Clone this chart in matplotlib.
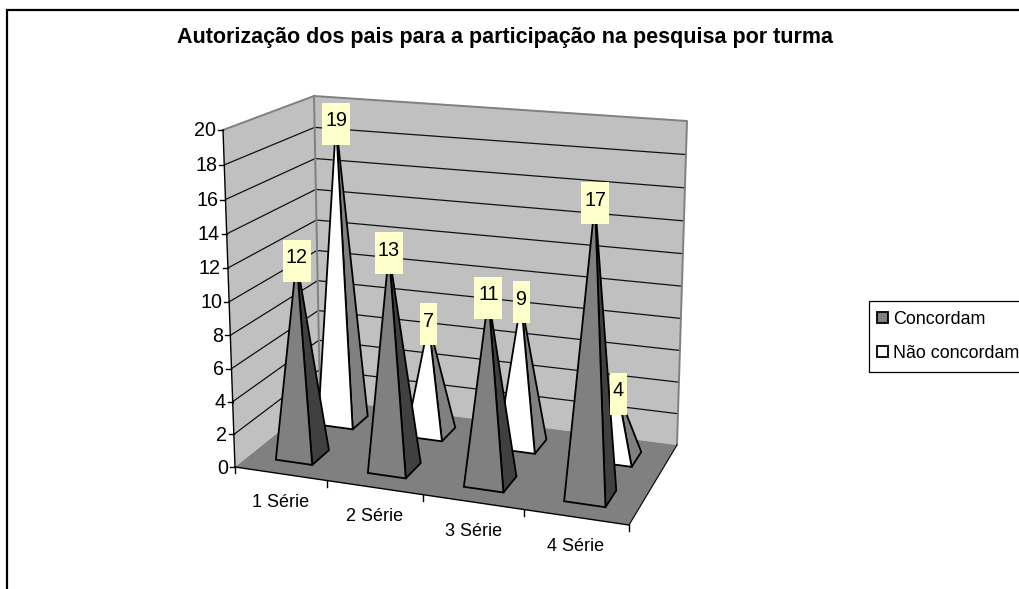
import numpy as np
import matplotlib
matplotlib.use('Agg')
import matplotlib.pyplot as plt
from matplotlib.patches import Patch, Polygon, Rectangle

plt.rcParams['font.family'] = ['Liberation Sans', 'DejaVu Sans']

title = 'Autorização dos pais para a participação na pesquisa por turma'
categories = ['1 Série', '2 Série', '3 Série', '4 Série']
concordam = [12, 13, 11, 17]
nao_concordam = [19, 7, 9, 4]
y_ticks = [0, 2, 4, 6, 8, 10, 12, 14, 16, 18, 20]
y_max = 20

W, H = 1019, 589

# box corners in picture pixels: front left, front right, back right, back left
floor_px = [(235, 467), (629, 525), (677, 445), (320, 399)]
roof_px = [(223, 130), (641, 165), (687, 121), (314, 96)]


def homography(corners):
    src = [(0, 0), (1, 0), (1, 1), (0, 1)]
    A, b = [], []
    for (u, d), (x, y) in zip(src, corners):
        A.append([u, d, 1, 0, 0, 0, -u * x, -d * x])
        A.append([0, 0, 0, u, d, 1, -u * y, -d * y])
        b += [x, y]
    return np.append(np.linalg.solve(np.array(A, float), np.array(b, float)), 1).reshape(3, 3)


H_floor = homography(floor_px)
H_roof = homography(roof_px)


def apply_h(h, u, d):
    p = h @ np.array([u, d, 1.0])
    return p[:2] / p[2]


def proj(cat, depth, value=0):
    # cat runs 0..len(categories), depth 0..1 front to back
    u = cat / len(categories)
    t = value / y_max
    t = t / (1 + 0.04 * (1 - t))  # slight vertical perspective
    return tuple((1 - t) * apply_h(H_floor, u, depth) + t * apply_h(H_roof, u, depth))


fig = plt.figure(figsize=(W / 100, H / 100), dpi=100)
ax = fig.add_axes([0, 0, 1, 1])
ax.set_xlim(0, W)
ax.set_ylim(H, 0)
ax.axis('off')

n = len(categories)
wall_c = '#C0C0C0'
edge_c = '#808080'

# walls and floor
ax.add_patch(Polygon([proj(0, 0), proj(0, 1), proj(0, 1, y_max), proj(0, 0, y_max)], fc=wall_c, ec='none', zorder=1))
ax.add_patch(Polygon([proj(0, 1), proj(n, 1), proj(n, 1, y_max), proj(0, 1, y_max)], fc=wall_c, ec='none', zorder=1))
ax.add_patch(Polygon([proj(0, 0), proj(n, 0), proj(n, 1), proj(0, 1)], fc=edge_c, ec='none', zorder=1.5))

# gridlines
for v in y_ticks[1:-1]:
    pts = [proj(0, 0, v), proj(0, 1, v), proj(n, 1, v)]
    ax.plot(*zip(*pts), color='#111111', lw=0.9, zorder=2)

# wall edges
pts = [proj(0, 0, y_max), proj(0, 1, y_max), proj(n, 1, y_max), proj(n, 1)]
ax.plot(*zip(*pts), color=edge_c, lw=1.4, zorder=2)
pts = [proj(0, 1), proj(0, 1, y_max)]
ax.plot(*zip(*pts), color=edge_c, lw=1.4, zorder=2)

# axes
ax.plot(*zip(proj(0, 0), proj(0, 0, y_max)), color='black', lw=1, zorder=3)
ax.plot(*zip(proj(0, 0), proj(n, 0)), color='black', lw=1, zorder=3)
ax.plot(*zip(proj(n, 0), proj(n, 1)), color='black', lw=0.8, zorder=3)

for v in y_ticks:
    x, y = proj(0, 0, v)
    ax.plot([x - 5, x], [y, y], color='black', lw=1, zorder=3)
    ax.text(x - 7, y + 1, str(v), ha='right', va='center', fontsize=14.2)

for i in range(n + 1):
    x, y = proj(i, 0)
    ax.plot([x, x], [y, y + 6], color='black', lw=1, zorder=3)

for i, name in enumerate(categories):
    x, y = proj(i + 0.5, 0)
    ax.text(x, y + 29, name, ha='center', va='center', fontsize=13)


def pyramid(cat, depth, value, front, side, zorder):
    hw, hd = 0.2, 0.1
    c = cat + 0.5
    fl, fr = proj(c - hw, depth - hd), proj(c + hw, depth - hd)
    br = proj(c + hw, depth + hd)
    top = proj(c, depth, value)
    ax.add_patch(Polygon([fr, br, top], fc=side, ec='black', lw=1.3, joinstyle='miter', zorder=zorder))
    ax.add_patch(Polygon([fl, fr, top], fc=front, ec='black', lw=1.3, joinstyle='miter', zorder=zorder))
    return top


tops = []
for i, v in enumerate(nao_concordam):
    tops.append((pyramid(i, 0.75, v, 'white', '#808080', 4 + i * 0.01), v))
for i, v in enumerate(concordam):
    tops.append((pyramid(i, 0.25, v, '#808080', '#404040', 5 + i * 0.01), v))

# data labels sit on the tip of each pyramid
for (x, y), v in tops:
    w = 6 + 11 * len(str(v))
    ax.add_patch(Rectangle((x - w / 2, y - 20), w, 42, fc='#FFFFCC', ec='none', zorder=6))
    ax.text(x, y - 2, str(v), ha='center', va='center', fontsize=14.2, zorder=7)

ax.text(505, 38, title, ha='center', va='center', fontsize=15.5, fontweight='bold')

# chart border, the right and bottom sides are cut off
ax.plot([7, 7, W], [H, 10, 10], color='black', lw=1.6, solid_joinstyle='miter')

# legend box runs off the right edge of the picture
ax.add_patch(Rectangle((869, 300.5), W, 71, fc='white', ec='black', lw=0.9, zorder=8))
handles = [Patch(fc='#808080', ec='black', lw=1.3), Patch(fc='white', ec='black', lw=1.3)]
leg = ax.legend(handles, ['Concordam', 'Não concordam'], loc='upper left',
                bbox_to_anchor=(877 / W, 1 - 311 / H), bbox_transform=fig.transFigure,
                fontsize=12.9, handlelength=0.6, handleheight=0.6, handletextpad=0.3,
                labelspacing=0.95, borderaxespad=0, borderpad=0, frameon=False)
leg.set_zorder(9)

fig.savefig('out.png', dpi=100)
